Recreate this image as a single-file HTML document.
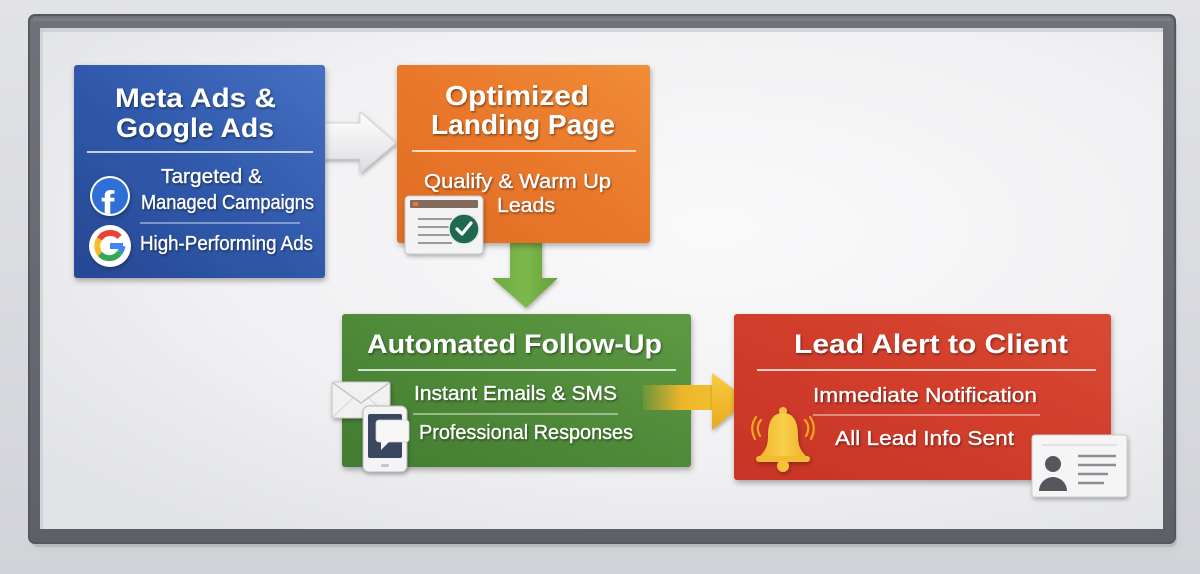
<!DOCTYPE html>
<html><head><meta charset="utf-8"><style>
html,body{margin:0;padding:0;background:#d6d7dc;}
svg{display:block;}
text{font-family:"Liberation Sans",Arial,sans-serif;fill:#fff;}
</style></head><body>
<svg width="1200" height="574" viewBox="0 0 1200 574" xmlns="http://www.w3.org/2000/svg">
<defs>
  <linearGradient id="bgOut" x1="0" y1="0" x2="0" y2="1">
    <stop offset="0" stop-color="#e2e3e7"/><stop offset="1" stop-color="#d2d3d8"/>
  </linearGradient>
  <linearGradient id="frame" x1="0" y1="0" x2="0" y2="1">
    <stop offset="0" stop-color="#6f7278"/><stop offset="0.5" stop-color="#686a71"/><stop offset="1" stop-color="#5e6067"/>
  </linearGradient>
  <radialGradient id="inner" cx="0.6" cy="0.4" r="0.75">
    <stop offset="0" stop-color="#fafafb"/><stop offset="0.6" stop-color="#f1f1f3"/><stop offset="1" stop-color="#e2e3e6"/>
  </radialGradient>
  <linearGradient id="gBlue" x1="1" y1="0" x2="0" y2="1">
    <stop offset="0" stop-color="#4570c3"/><stop offset="0.5" stop-color="#3059ab"/><stop offset="1" stop-color="#274894"/>
  </linearGradient>
  <linearGradient id="gOrange" x1="1" y1="0" x2="0" y2="1">
    <stop offset="0" stop-color="#f08c37"/><stop offset="0.5" stop-color="#e9782b"/><stop offset="1" stop-color="#e06c25"/>
  </linearGradient>
  <linearGradient id="gGreen" x1="1" y1="0" x2="0" y2="1">
    <stop offset="0" stop-color="#5e9a44"/><stop offset="0.5" stop-color="#4f8a39"/><stop offset="1" stop-color="#447c31"/>
  </linearGradient>
  <linearGradient id="gRed" x1="1" y1="0" x2="0" y2="1">
    <stop offset="0" stop-color="#d84a33"/><stop offset="0.5" stop-color="#d13d2b"/><stop offset="1" stop-color="#c83426"/>
  </linearGradient>
  <linearGradient id="gWhiteArrow" x1="0" y1="0" x2="0" y2="1">
    <stop offset="0" stop-color="#ffffff"/><stop offset="1" stop-color="#dcdde1"/>
  </linearGradient>
  <linearGradient id="gGreenArrow" x1="0" y1="0" x2="1" y2="0">
    <stop offset="0" stop-color="#6da93f"/><stop offset="0.5" stop-color="#7cb84a"/><stop offset="1" stop-color="#64a03a"/>
  </linearGradient>
  <linearGradient id="gYShaft" x1="643" y1="0" x2="713" y2="0" gradientUnits="userSpaceOnUse">
    <stop offset="0" stop-color="#e9b52c" stop-opacity="0.15"/><stop offset="0.55" stop-color="#eeb52a"/><stop offset="1" stop-color="#f1bf30"/>
  </linearGradient>
  <linearGradient id="gYHead" x1="0" y1="0" x2="0" y2="1">
    <stop offset="0" stop-color="#f6cd40"/><stop offset="1" stop-color="#e9a91f"/>
  </linearGradient>
  <linearGradient id="gBell" x1="0" y1="0" x2="1" y2="0">
    <stop offset="0" stop-color="#f0b42a"/><stop offset="0.5" stop-color="#f8d04a"/><stop offset="1" stop-color="#eeb02a"/>
  </linearGradient>
  <clipPath id="fbclip"><circle cx="110" cy="196" r="18"/></clipPath>
  <filter id="sh" x="-20%" y="-20%" width="140%" height="150%">
    <feDropShadow dx="1" dy="3" stdDeviation="3" flood-color="#000" flood-opacity="0.3"/>
  </filter>
  <filter id="shs" x="-30%" y="-30%" width="160%" height="170%">
    <feDropShadow dx="1" dy="2" stdDeviation="2" flood-color="#000" flood-opacity="0.3"/>
  </filter>
  <filter id="ts" x="-10%" y="-30%" width="120%" height="170%">
    <feDropShadow dx="1" dy="1.5" stdDeviation="1" flood-color="#000" flood-opacity="0.45"/>
  </filter>
</defs>

<!-- backgrounds -->
<rect x="0" y="0" width="1200" height="574" fill="url(#bgOut)"/>
<rect x="31" y="19" width="1146" height="528" rx="7" fill="#000" opacity="0.12" filter="url(#sh)"/>
<rect x="29" y="15" width="1146" height="528" rx="6" fill="url(#frame)"/>
<rect x="29" y="15" width="1146" height="528" rx="6" fill="none" stroke="#55575d" stroke-width="2"/>
<rect x="33" y="18" width="1138" height="3" fill="#80838a" opacity="0.6"/>
<rect x="40" y="28" width="1123" height="501" fill="url(#inner)"/>
<rect x="40" y="28" width="1123" height="4" fill="#c9cacf" opacity="0.7"/>
<rect x="40" y="28" width="3" height="501" fill="#c9cacf" opacity="0.6"/>

<!-- white arrow -->
<polygon points="320,123 360,123 360,112 396,143 360,173 360,159 320,159" fill="url(#gWhiteArrow)" stroke="#d3d4d8" stroke-width="1" filter="url(#shs)"/>

<!-- green down arrow -->
<polygon points="510,240 542,240 542,278 558,278 526,308 492,278 510,278" fill="url(#gGreenArrow)" filter="url(#shs)"/>

<!-- Blue box -->
<rect x="74" y="65" width="251" height="213" rx="3" fill="url(#gBlue)" filter="url(#sh)"/>
<line x1="87" y1="152" x2="313" y2="152" stroke="#dfe7f7" stroke-width="2" opacity="0.85"/>
<line x1="140" y1="223" x2="300" y2="223" stroke="#c8d4ef" stroke-width="1.5" opacity="0.7"/>
<g filter="url(#ts)">
<text x="115" y="107" font-size="27" font-weight="bold" textLength="161" lengthAdjust="spacingAndGlyphs">Meta Ads &amp;</text>
<text x="116" y="137" font-size="27" font-weight="bold" textLength="158" lengthAdjust="spacingAndGlyphs">Google Ads</text>
<text x="161" y="183" font-size="20" stroke="#fff" stroke-width="0.3" textLength="101" lengthAdjust="spacingAndGlyphs">Targeted &amp;</text>
<text x="141" y="209" font-size="20" stroke="#fff" stroke-width="0.3" textLength="173" lengthAdjust="spacingAndGlyphs">Managed Campaigns</text>
<text x="140" y="250" font-size="20" stroke="#fff" stroke-width="0.3" textLength="173" lengthAdjust="spacingAndGlyphs">High-Performing Ads</text>
</g>
<!-- FB icon -->
<circle cx="110" cy="196" r="20" fill="#ffffff" filter="url(#shs)"/>
<circle cx="110" cy="196" r="18" fill="#2f6fd8"/>
<g clip-path="url(#fbclip)">
<text x="101" y="219" font-size="40" font-weight="bold">f</text>
</g>
<!-- Google icon -->
<circle cx="110" cy="246" r="21" fill="#ffffff" filter="url(#shs)"/>
<g fill="none" stroke-width="6">
  <path d="M119.5,237 A12.5,12.5 0 0 0 99.5,239" stroke="#e94235"/>
  <path d="M99.5,239 A12.5,12.5 0 0 0 100,254" stroke="#f9bb2d"/>
  <path d="M100,254 A12.5,12.5 0 0 0 120,252" stroke="#34a853"/>
  <path d="M120,252 A12.5,12.5 0 0 0 122.5,246" stroke="#4285f4"/>
</g>
<rect x="110" y="243" width="13" height="6" fill="#4285f4"/>

<!-- Orange box -->
<rect x="397" y="65" width="253" height="178" rx="3" fill="url(#gOrange)" filter="url(#sh)"/>
<line x1="412" y1="151" x2="636" y2="151" stroke="#fde3cf" stroke-width="2" opacity="0.9"/>
<g filter="url(#ts)">
<text x="445" y="105" font-size="28" font-weight="bold" textLength="144" lengthAdjust="spacingAndGlyphs">Optimized</text>
<text x="431" y="134" font-size="28" font-weight="bold" textLength="184" lengthAdjust="spacingAndGlyphs">Landing Page</text>
<text x="424" y="188" font-size="20" stroke="#fff" stroke-width="0.3" textLength="187" lengthAdjust="spacingAndGlyphs">Qualify &amp; Warm Up</text>
<text x="497" y="212" font-size="20" stroke="#fff" stroke-width="0.3" textLength="58" lengthAdjust="spacingAndGlyphs">Leads</text>
</g>
<!-- browser icon -->
<rect x="405" y="196" width="78" height="58" rx="4" fill="#f3f3f4" stroke="#c9c9cc" stroke-width="1" filter="url(#shs)"/>
<rect x="410" y="200" width="68" height="8" rx="1" fill="#84695d"/>
<rect x="413" y="202" width="5" height="4" fill="#e07a3a"/>
<g stroke="#9a9a9e" stroke-width="2">
  <line x1="418" y1="219" x2="452" y2="219"/>
  <line x1="418" y1="227" x2="452" y2="227"/>
  <line x1="418" y1="235" x2="452" y2="235"/>
  <line x1="418" y1="243" x2="452" y2="243"/>
</g>
<circle cx="464" cy="229" r="15" fill="#1f6a4f" stroke="#e8e8e8" stroke-width="1.5"/>
<path d="M457,229 L462,234 L471,223" fill="none" stroke="#fff" stroke-width="3.2" stroke-linecap="round" stroke-linejoin="round"/>

<!-- Green box -->
<rect x="342" y="314" width="349" height="153" rx="3" fill="url(#gGreen)" filter="url(#sh)"/>
<line x1="358" y1="370" x2="676" y2="370" stroke="#e2eedb" stroke-width="2" opacity="0.9"/>
<line x1="413" y1="414" x2="618" y2="414" stroke="#d4e4cb" stroke-width="1.5" opacity="0.75"/>
<g filter="url(#ts)">
<text x="367" y="353" font-size="27" font-weight="bold" textLength="295" lengthAdjust="spacingAndGlyphs">Automated Follow-Up</text>
<text x="414" y="400" font-size="20" stroke="#fff" stroke-width="0.3" textLength="203" lengthAdjust="spacingAndGlyphs">Instant Emails &amp; SMS</text>
<text x="419" y="439" font-size="20" stroke="#fff" stroke-width="0.3" textLength="214" lengthAdjust="spacingAndGlyphs">Professional Responses</text>
</g>
<!-- envelope -->
<rect x="332" y="382" width="58" height="36" rx="2" fill="#f1f1f2" stroke="#c6c6ca" stroke-width="1" filter="url(#shs)"/>
<path d="M333,383 L361,403 L389,383" fill="none" stroke="#c4c4c8" stroke-width="1.5"/>
<path d="M333,417 L353,398 M389,417 L369,398" fill="none" stroke="#d4d4d8" stroke-width="1"/>
<!-- phone -->
<rect x="363" y="406" width="44" height="66" rx="6" fill="#f4f4f6" stroke="#b9b9be" stroke-width="1" filter="url(#shs)"/>
<rect x="368" y="414" width="34" height="44" rx="2" fill="#3b4661"/>
<rect x="381" y="464" width="8" height="3" rx="1.5" fill="#c4c4c8"/>
<rect x="376" y="420" width="33" height="22" rx="3" fill="#f7f7f8" stroke="#d0d0d4" stroke-width="0.8"/>
<polygon points="381,441 381,450 390,441" fill="#f7f7f8"/>

<!-- yellow arrow -->
<rect x="643" y="385" width="71" height="25" fill="url(#gYShaft)"/>
<polygon points="712,373 748,400 712,430" fill="url(#gYHead)" filter="url(#shs)"/>

<!-- Red box -->
<rect x="734" y="314" width="377" height="166" rx="3" fill="url(#gRed)" filter="url(#sh)"/>
<line x1="757" y1="370" x2="1096" y2="370" stroke="#f6dcd6" stroke-width="2" opacity="0.9"/>
<line x1="813" y1="415" x2="1040" y2="415" stroke="#f0c8c0" stroke-width="1.5" opacity="0.75"/>
<g filter="url(#ts)">
<text x="794" y="353" font-size="27" font-weight="bold" textLength="274" lengthAdjust="spacingAndGlyphs">Lead Alert to Client</text>
<text x="813" y="402" font-size="20" stroke="#fff" stroke-width="0.3" textLength="224" lengthAdjust="spacingAndGlyphs">Immediate Notification</text>
<text x="835" y="445" font-size="20" stroke="#fff" stroke-width="0.3" textLength="179" lengthAdjust="spacingAndGlyphs">All Lead Info Sent</text>
</g>
<!-- bell -->
<g filter="url(#shs)">
  <circle cx="783" cy="411" r="4" fill="#f3c03a"/>
  <path d="M783,413 C771,413 768,424 768,436 C768,448 764,452 758,458 L808,458 C802,452 798,448 798,436 C798,424 795,413 783,413 Z" fill="url(#gBell)"/>
  <rect x="756" y="456" width="54" height="6" rx="3" fill="#f2bb33"/>
  <circle cx="783" cy="466" r="6" fill="#f4c23a"/>
</g>
<g fill="none" stroke="#f2a624" stroke-width="2.2" stroke-linecap="round">
  <path d="M761,420 Q755,427 760,436"/>
  <path d="M756,417 Q749,427 755,439"/>
  <path d="M805,420 Q811,427 806,436"/>
  <path d="M810,417 Q817,427 811,439"/>
</g>
<!-- ID card -->
<rect x="1032" y="435" width="95" height="62" rx="3" fill="#f5f5f6" stroke="#d0d0d4" stroke-width="1" filter="url(#shs)"/>
<line x1="1042" y1="445" x2="1117" y2="445" stroke="#dcdce0" stroke-width="1.5"/>
<circle cx="1053" cy="464" r="8" fill="#56575d"/>
<path d="M1039,491 A14,14 0 0 1 1067,491 Z" fill="#56575d"/>
<g stroke="#8d8e93" stroke-width="2.5">
  <line x1="1078" y1="456" x2="1116" y2="456"/>
  <line x1="1078" y1="465" x2="1116" y2="465"/>
  <line x1="1078" y1="474" x2="1108" y2="474"/>
  <line x1="1078" y1="483" x2="1104" y2="483"/>
</g>
</svg>
</body></html>
